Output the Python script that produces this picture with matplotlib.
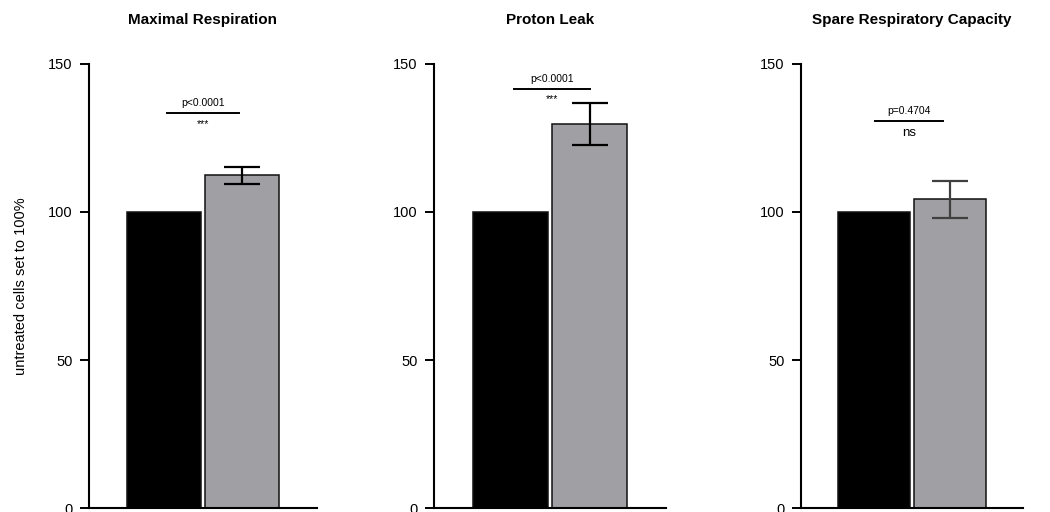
"""Normalised Seahorse respiration parameters: untreated vs treated cells."""

import matplotlib

matplotlib.use("Agg")
import matplotlib.pyplot as plt

plt.rcParams["font.family"] = ["Liberation Sans", "DejaVu Sans"]

# Values in % of untreated cells
PANELS = ["Maximal Respiration", "Proton Leak", "Spare Respiratory Capacity"]
CONTROL = [100.0, 100.0, 100.0]
TREATED = [112.4, 129.7, 104.3]
TREATED_SEM = [2.8, 7.1, 6.2]
P_LABELS = ["p<0.0001", "p<0.0001", "p=0.4704"]
STARS = ["***", "***", "ns"]
BRACKET_Y = [133.4, 141.7, 130.8]
Y_TICKS = [0, 50, 100, 150]

BAR_COLORS = ["#000000", "#a09fa4"]
ERR_COLORS = ["#000000", "#000000", "#404040"]

W, H = 1050, 512
# axes left / right edges in pixels
AX_EDGES = [(89, 317), (434, 666), (801, 1023)]
AX_BOTTOM, AX_TOP = 508, 64
BRACKET_X = [(0.04, 0.96), (0.05, 1.0), (0.01, 0.91)]


def main() -> None:
    fig = plt.figure(figsize=(W / 100, H / 100), dpi=100)
    for i, name in enumerate(PANELS):
        x0, x1 = AX_EDGES[i]
        ax = fig.add_axes(
            [x0 / W, 1 - AX_BOTTOM / H, (x1 - x0) / W, (AX_BOTTOM - AX_TOP) / H]
        )
        ax.bar([0, 1], [CONTROL[i], TREATED[i]], width=0.95,
               color=BAR_COLORS, edgecolor="#111111", linewidth=1.1, zorder=2)
        ax.errorbar([1], [TREATED[i]], yerr=[TREATED_SEM[i]], fmt="none",
                    ecolor=ERR_COLORS[i], elinewidth=1.6, capsize=13,
                    capthick=1.6, zorder=3)

        bx0, bx1 = BRACKET_X[i]
        by = BRACKET_Y[i]
        ax.plot([bx0, bx1], [by, by], color="black", lw=1.4, zorder=3)
        xm = (bx0 + bx1) / 2
        ax.text(xm, by + 1.6, P_LABELS[i], ha="center", va="bottom", fontsize=7.5)
        if STARS[i] == "ns":
            ax.text(xm, by - 2.2, STARS[i], ha="center", va="top", fontsize=9.5)
        else:
            ax.text(xm, by - 2.0, STARS[i], ha="center", va="top", fontsize=7.5)

        ax.set_xlim(-0.962, 1.962)
        ax.set_ylim(0, 150)
        ax.set_yticks(Y_TICKS)
        ax.set_xticks([])
        ax.tick_params(axis="y", length=6.5, width=1.4, pad=5.5, labelsize=10.5)
        for side in ("top", "right"):
            ax.spines[side].set_visible(False)
        for side in ("left", "bottom"):
            ax.spines[side].set_linewidth(1.5)
        ax.text(0.5, 1 + 44 / (AX_BOTTOM - AX_TOP), name, transform=ax.transAxes,
                ha="center", va="center", fontsize=11, fontweight="bold")
        if i == 0:
            ax.set_ylabel("untreated cells set to 100%", fontsize=10.5, labelpad=14)

    fig.savefig("out.png", dpi=100)
    plt.close(fig)


if __name__ == "__main__":
    main()
